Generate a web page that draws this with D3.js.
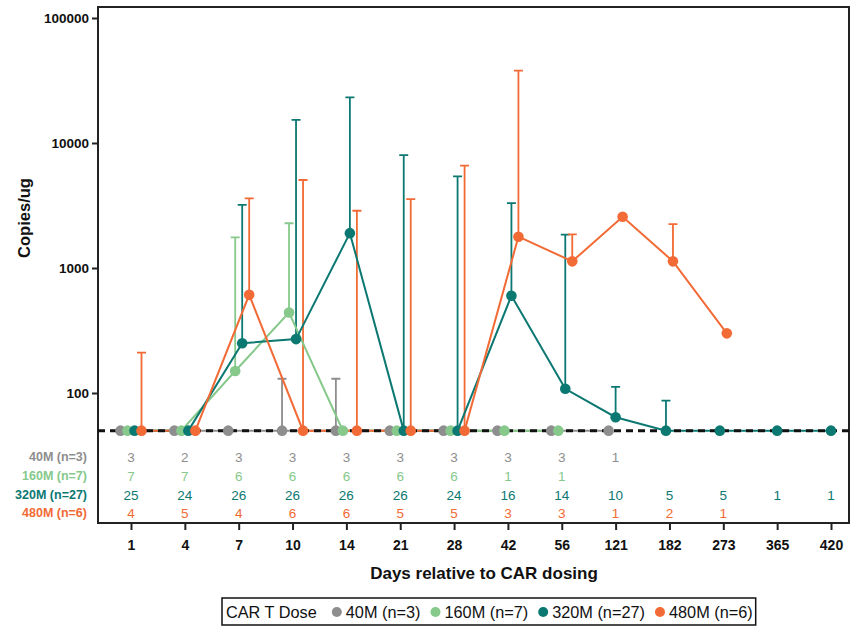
<!DOCTYPE html>
<html>
<head>
<meta charset="utf-8">
<script src="https://cdn.jsdelivr.net/npm/d3@7"></script>
<style>
    body { margin: 0; background: #fff; }
    svg { font-family: "Liberation Sans", Arial, sans-serif; }
</style>
</head>
<body>
<svg id="svg" width="850" height="627"></svg>
<script>
// categories on the x axis (days relative to CAR dosing)
const days = ["1", "4", "7", "10", "14", "21", "28", "42", "56", "121", "182", "273", "365", "420"];
const doseLabels = ["40M (n=3)", "160M (n=7)", "320M (n=27)", "480M (n=6)"];
const doseColors = ["#8e8e8e", "#86c98b", "#0c7872", "#f26a35"];
const lloq = 50;
const yTicks = [100, 1000, 10000, 100000];

// mean copies/ug, null = no sample
const mean40 = [50, 50, 50, 50, 50, 50, 50, 50, 50, 50, null, null, null, null];
const mean160 = [50, 50, 150, 440, 50, 50, 50, 50, 50, null, null, null, null, null];
const mean320 = [50, 50, 250, 270, 1900, 50, 50, 600, 108, 64, 50, 50, 50, 50];
const mean480 = [50, 50, 610, 50, 50, 50, 50, 1780, 1130, 2570, 1130, 300, null, null];

// upper end of error bar
const upper40 = [null, null, null, 130, 130, null, null, null, null, null, null, null, null, null];
const upper160 = [null, null, 1760, 2280, null, null, null, null, null, null, null, null, null, null];
const upper320 = [null, null, 3200, 15300, 23200, 8000, 5400, 3300, 1850, 112, 87, null, null, null];
const upper480 = [210, null, 3600, 5060, 2870, 3550, 6600, 37900, 1860, null, 2240, null, null, null];

// number of patients per timepoint
const count40 = [3, 2, 3, 3, 3, 3, 3, 3, 3, 1, null, null, null, null];
const count160 = [7, 7, 6, 6, 6, 6, 6, 1, 1, null, null, null, null, null];
const count320 = [25, 24, 26, 26, 26, 26, 24, 16, 14, 10, 5, 5, 1, 1];
const count480 = [4, 5, 4, 6, 6, 5, 5, 3, 3, 1, 2, 1, null, null];

const means = [mean40, mean160, mean320, mean480];
const uppers = [upper40, upper160, upper320, upper480];
const counts = [count40, count160, count320, count480];

let svg = d3.select("#svg");
const frame = { left: 98, right: 849, top: 7, bottom: 523 };
const dodgeStep = 7;

let xScale = d3.scalePoint().domain(days).range([131, 831]);
let yScale = d3.scaleLog().domain([100, 100000]).range([393, 18]);

// groups present at a day share the space around the tick
function dodge(g, i) {
    let present = [];
    means.forEach((m, k) => { if (m[i] != null) present.push(k); });
    let rank = present.indexOf(g);
    return xScale(days[i]) + (rank - (present.length - 1) / 2) * dodgeStep;
}

function drawAxes() {
    svg.append("rect")
        .attr("x", frame.left)
        .attr("y", frame.top)
        .attr("width", frame.right - frame.left)
        .attr("height", frame.bottom - frame.top)
        .attr("fill", "none")
        .attr("stroke", "#222")
        .attr("stroke-width", 2);

    let yAxis = svg.append("g")
        .attr("transform", `translate(${frame.left},0)`)
        .call(d3.axisLeft(yScale).tickValues(yTicks).tickFormat(d3.format("d")).tickSize(6).tickPadding(3));
    yAxis.select(".domain").remove();
    yAxis.selectAll("line").attr("stroke", "#222").attr("stroke-width", 2);
    yAxis.selectAll("text")
        .attr("fill", "#111")
        .style("font-size", "13.5px")
        .style("font-weight", "bold")
        .style("font-family", "'Liberation Sans', Arial, sans-serif");

    let xAxis = svg.append("g")
        .attr("transform", `translate(0,${frame.bottom})`)
        .call(d3.axisBottom(xScale).tickSize(7).tickPadding(10));
    xAxis.select(".domain").remove();
    xAxis.selectAll("line").attr("stroke", "#222").attr("stroke-width", 2);
    xAxis.selectAll("text")
        .attr("fill", "#111")
        .style("font-size", "14px")
        .style("font-weight", "bold")
        .style("font-family", "'Liberation Sans', Arial, sans-serif");

    svg.append("text")
        .attr("x", 484)
        .attr("y", 579)
        .attr("text-anchor", "middle")
        .style("font-size", "17px")
        .style("font-weight", "bold")
        .attr("fill", "#111")
        .text("Days relative to CAR dosing");

    svg.append("text")
        .attr("transform", "translate(30,218) rotate(-90)")
        .attr("text-anchor", "middle")
        .style("font-size", "16.5px")
        .style("font-weight", "bold")
        .attr("fill", "#111")
        .text("Copies/ug");
}

function drawSeries() {
    let errLayer = svg.append("g");
    let lineLayer = svg.append("g");
    let lloqLayer = svg.append("g");
    let pointLayer = svg.append("g");

    means.forEach((m, g) => {
        let pts = m.map((v, i) => ({ i: i, v: v, up: uppers[g][i] })).filter(d => d.v != null);

        errLayer.selectAll(".err" + g)
            .data(pts.filter(d => d.up != null))
            .enter().append("path")
            .attr("d", d => {
                let x = dodge(g, d.i);
                let y0 = yScale(d.v), y1 = yScale(d.up);
                return `M${x},${y0}V${y1}M${x - 4.5},${y1}H${x + 4.5}`;
            })
            .attr("fill", "none")
            .attr("stroke", doseColors[g])
            .attr("stroke-width", 1.8);

        lineLayer.append("path")
            .datum(pts)
            .attr("d", d3.line().x(d => dodge(g, d.i)).y(d => yScale(d.v)))
            .attr("fill", "none")
            .attr("stroke", doseColors[g])
            .attr("stroke-width", 2);

        pointLayer.selectAll(".pt" + g)
            .data(pts)
            .enter().append("circle")
            .attr("cx", d => dodge(g, d.i))
            .attr("cy", d => yScale(d.v))
            .attr("r", 5.3)
            .attr("fill", doseColors[g]);
    });

    lloqLayer.append("line")
        .attr("x1", frame.left)
        .attr("x2", frame.right)
        .attr("y1", yScale(lloq))
        .attr("y2", yScale(lloq))
        .attr("stroke", "#111")
        .attr("stroke-width", 3)
        .attr("stroke-dasharray", "7,5");
}

function drawCountTable() {
    const rowY = [457, 476, 495, 513];
    counts.forEach((c, g) => {
        svg.append("text")
            .attr("x", 87)
            .attr("y", rowY[g])
            .attr("dy", "0.35em")
            .attr("text-anchor", "end")
            .style("font-size", "12.5px")
            .style("font-weight", "bold")
            .attr("fill", doseColors[g])
            .text(doseLabels[g]);

        svg.selectAll(".count" + g)
            .data(c.map((n, i) => ({ n: n, day: days[i] })).filter(d => d.n != null))
            .enter().append("text")
            .attr("x", d => xScale(d.day))
            .attr("y", rowY[g])
            .attr("dy", "0.35em")
            .attr("text-anchor", "middle")
            .style("font-size", "13.5px")
            .attr("fill", doseColors[g])
            .text(d => d.n);
    });
}

function drawLegend() {
    let legend = svg.append("g");
    let box = legend.append("rect")
        .attr("y", 598)
        .attr("height", 27)
        .attr("fill", "#fff")
        .attr("stroke", "#111")
        .attr("stroke-width", 1.5);

    let x = 226;
    let title = legend.append("text")
        .attr("x", x)
        .attr("y", 612)
        .attr("dy", "0.35em")
        .style("font-size", "16.3px")
        .attr("fill", "#111")
        .text("CAR T Dose");
    x += title.node().getComputedTextLength() + 20;

    doseLabels.forEach((label, g) => {
        legend.append("circle")
            .attr("cx", x)
            .attr("cy", 612)
            .attr("r", 5)
            .attr("fill", doseColors[g]);
        let t = legend.append("text")
            .attr("x", x + 9)
            .attr("y", 612)
            .attr("dy", "0.35em")
            .style("font-size", "16.3px")
            .attr("fill", "#111")
            .text(label);
        x += 9 + t.node().getComputedTextLength() + 15;
    });

    box.attr("x", 222).attr("width", x - 15 + 3 - 222);
}

function initialise() {
    drawAxes();
    drawSeries();
    drawCountTable();
    drawLegend();
}

initialise();
</script>
</body>
</html>
